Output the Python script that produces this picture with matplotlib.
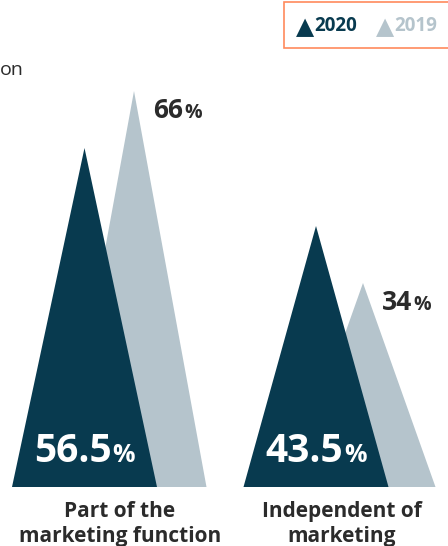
import matplotlib.pyplot as plt
from matplotlib.patches import FancyBboxPatch

# data
categories = ['Part of the\nmarketing function', 'Independent of\nmarketing']
values_2020 = [56.5, 43.5]
values_2019 = [66, 34]
years = ['2020', '2019']

dark = '#083a4f'
light = '#b5c4cc'
txt = '#2b2b2b'

plt.rcParams['font.family'] = ['Open Sans', 'DejaVu Sans']

fig = plt.figure(figsize=(4.48, 5.46), dpi=100)
base = 59 / 546
ax = fig.add_axes([0, base, 1, 1 - base])
ax.set_xlim(0, 448)
ax.set_ylim(0, 487 / 6.0)
ax.axis('off')

# layout (pixels across)
centers_2020 = [84.5, 316]
centers_2019 = [134, 363]
half_w = 72.5

for c, v in zip(centers_2019, values_2019):
    ax.fill([c - half_w, c, c + half_w], [0, v, 0], color=light, lw=0)
for c, v in zip(centers_2020, values_2020):
    ax.fill([c - half_w, c, c + half_w], [0, v, 0], color=dark, lw=0)

renderer = fig.canvas.get_renderer()


def pct_label(x, y, num, color, size, psize, align, dx=0, dy=0):
    # number followed by a smaller percent sign
    t1 = ax.annotate(num, (x, y), xytext=(dx, dy), textcoords='offset pixels',
                     color=color, fontsize=size, fontweight='bold',
                     ha='left', va='baseline')
    t2 = ax.annotate('%', (x, y), xytext=(dx, dy), textcoords='offset pixels',
                     color=color, fontsize=psize, fontweight='bold',
                     ha='left', va='baseline')
    w1 = t1.get_window_extent(renderer).width
    w2 = t2.get_window_extent(renderer).width
    gap = 1
    shift = -(w1 + w2 + gap) / 2 if align == 'center' else 0
    t1.set_position((dx + shift, dy))
    t2.set_position((dx + shift + w1 + gap, dy))


for c, v in zip(centers_2020, values_2020):
    pct_label(c, 0, f'{v:g}', 'white', 28, 18, 'center', dy=25)
for c, v in zip(centers_2019, values_2019):
    pct_label(c, v, f'{v:g}', txt, 19, 14, 'left', dx=19, dy=-27)

# category labels
for c, lab in zip([120, 342], categories):
    fig.text(c / 448, 1 - 524 / 546, lab, ha='center', va='center', fontsize=15,
             fontweight='bold', color=txt, linespacing=1.3)

# clipped title fragment
fig.text(0, 1 - 70 / 546, 'on', ha='left', va='center', fontsize=14, color=txt)

# legend box
box = FancyBboxPatch((284 / 448, 1 - 48 / 546), 170 / 448, 46 / 546,
                     boxstyle='square,pad=0', transform=fig.transFigure,
                     facecolor='white', edgecolor='#ff8a5c', lw=1.2, clip_on=False)
fig.patches.append(box)
for x0, yr, col in zip([296, 376], years, [dark, light]):
    fig.text(x0 / 448, 1 - 27 / 546, '\u25b2', ha='left', va='center',
             fontsize=17, color=col, family='DejaVu Sans')
    fig.text((x0 + 18) / 448, 1 - 26 / 546, yr, ha='left', va='center',
             fontsize=13.5, fontweight='bold', color=col)

fig.savefig('out.png', dpi=100)
